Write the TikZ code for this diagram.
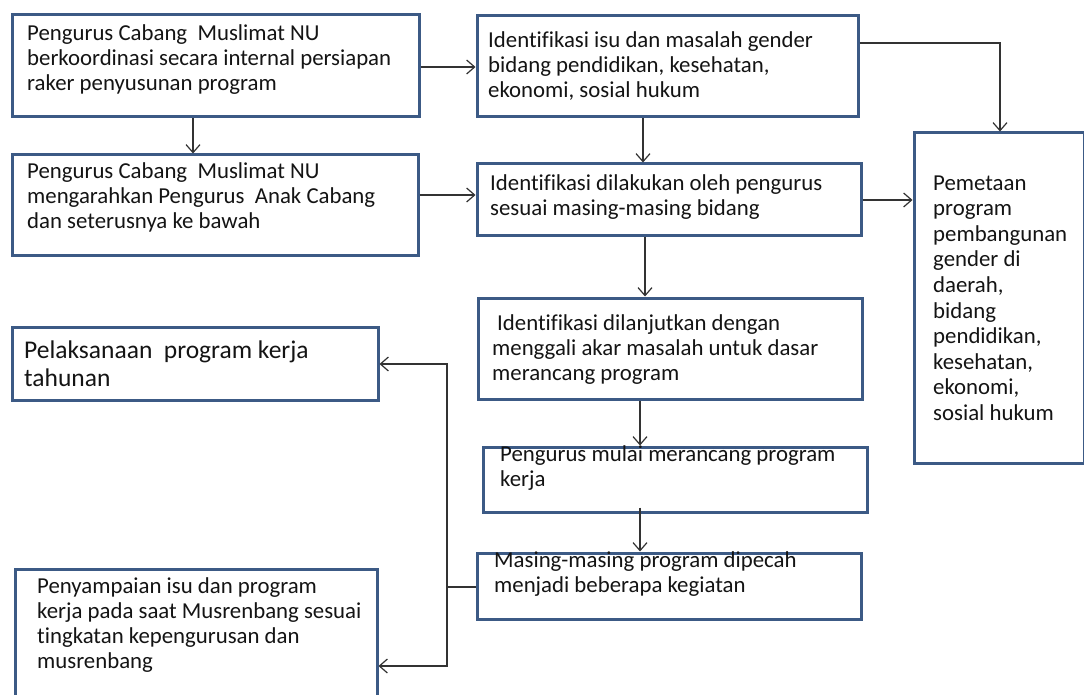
\documentclass[tikz,border=0pt]{standalone}
\usepackage{fontspec}
\setmainfont{Carlito}[Ligatures=NoCommon]
\usetikzlibrary{arrows.meta}
\definecolor{boxblue}{HTML}{3C5A85}
\definecolor{linegray}{HTML}{333333}
\begin{document}
\begin{tikzpicture}[x=1pt,y=-1pt,
  box/.style={draw=boxblue,line width=3pt,fill=white,inner sep=0pt},
  txt/.style={anchor=north west,inner sep=0pt,align=left,text=black!92,
    font=\fontsize{22.8pt}{25pt}\selectfont},
  bigtxt/.style={txt,font=\fontsize{25.5pt}{28pt}\selectfont},
  tall/.style={txt,font=\fontsize{22.8pt}{25.6pt}\selectfont},
  conn/.style={draw=linegray,line width=1.3pt},
  arr/.style={conn,-{Straight Barb[length=8pt,width=14pt,line width=1.2pt]}}]
\clip (0,0) rectangle (1084,695);
\fill[white] (0,0) rectangle (1084,695);
% boxes
\node[box,minimum width=407pt,minimum height=102pt] (A) at (215.5,66) {};
\node[box,minimum width=406pt,minimum height=100pt] (B) at (215,205) {};
\node[box,minimum width=381pt,minimum height=101pt] (C) at (667.5,66.5) {};
\node[box,minimum width=384pt,minimum height=71pt] (D) at (669,199.5) {};
\node[box,minimum width=170pt,minimum height=330pt] (E) at (999,298) {};
\node[box,minimum width=384pt,minimum height=101pt] (F) at (670,348.5) {};
\node[box,minimum width=384pt,minimum height=65pt] (G) at (675,479.5) {};
\node[box,minimum width=384pt,minimum height=66pt] (H) at (669,586) {};
\node[box,minimum width=366pt,minimum height=73pt] (I) at (195,363.5) {};
\node[box,minimum width=362pt,minimum height=146pt] (J) at (196,642) {};
% texts
\node[txt] (At) at (27,22.5) {\strut Pengurus Cabang \ Muslimat NU\\berkoordinasi secara internal persiapan\\raker penyusunan program};
\node[txt] (Bt) at (27,160.5) {\strut Pengurus Cabang \ Muslimat NU\\mengarahkan Pengurus \ Anak Cabang\\dan seterusnya ke bawah};
\node[txt] (Ct) at (488,29.5) {\strut Identifikasi isu dan masalah gender\\bidang pendidikan, kesehatan,\\ekonomi, sosial hukum};
\node[txt] (Dt) at (490,172.5) {\strut Identifikasi dilakukan oleh pengurus\\sesuai masing-masing bidang};
\node[tall] (Et) at (933,172) {\strut Pemetaan\\program\\pembangunan\\gender di\\daerah,\\bidang\\pendidikan,\\kesehatan,\\ekonomi,\\sosial hukum};
\node[txt] (Ft) at (492,312.5) {\strut\hspace{5pt}Identifikasi dilanjutkan dengan\\menggali akar masalah untuk dasar\\merancang program};
\node[txt] (Gt) at (500,443.5) {\strut Pengurus mulai merancang program\\kerja};
\node[txt] (Ht) at (494,549.5) {\strut Masing-masing program dipecah\\menjadi beberapa kegiatan};
\node[bigtxt] (It) at (24,338.4) {\strut Pelaksanaan \ program kerja\\tahunan};
\node[txt] (Jt) at (37,575.5) {\strut Penyampaian isu dan program\\kerja pada saat Musrenbang sesuai\\tingkatan kepengurusan dan\\musrenbang};
% guide coordinates
\coordinate (xab) at (193,0);
\coordinate (yac) at (0,67);
\coordinate (ybd) at (0,195);
\coordinate (xcd) at (643,0);
\coordinate (yce) at (0,43);
\coordinate (xce) at (1000,0);
\coordinate (yde) at (0,200);
\coordinate (xdf) at (645,0);
\coordinate (xfg) at (640,0);
\coordinate (xfb) at (447,0);
\coordinate (yh) at (0,587);
\coordinate (yi) at (0,364);
\coordinate (yj) at (0,666);
% connectors
\draw[arr] (xab |- A.south) -- (xab |- B.north);
\draw[arr] (A.east |- yac) -- (C.west |- yac);
\draw[arr] (B.east |- ybd) -- (D.west |- ybd);
\draw[arr] (xcd |- C.south) -- (xcd |- D.north);
\draw[arr] (C.east |- yce) -| (E.north -| xce);
\draw[arr] (D.east |- yde) -- (E.west |- yde);
\draw[arr] (xdf |- D.south) -- (xdf |- F.north);
\draw[arr] (xfg |- F.south) -- (xfg |- G.north);
\draw[arr] ([yshift=6pt]xfg |- G.south) -- (xfg |- H.north);
\draw[conn] (H.west |- yh) -- (xfb |- yh);
\draw[arr] (xfb |- yh) |- (I.east |- yi);
\draw[arr] (xfb |- yh) |- (J.east |- yj);
\end{tikzpicture}
\end{document}
